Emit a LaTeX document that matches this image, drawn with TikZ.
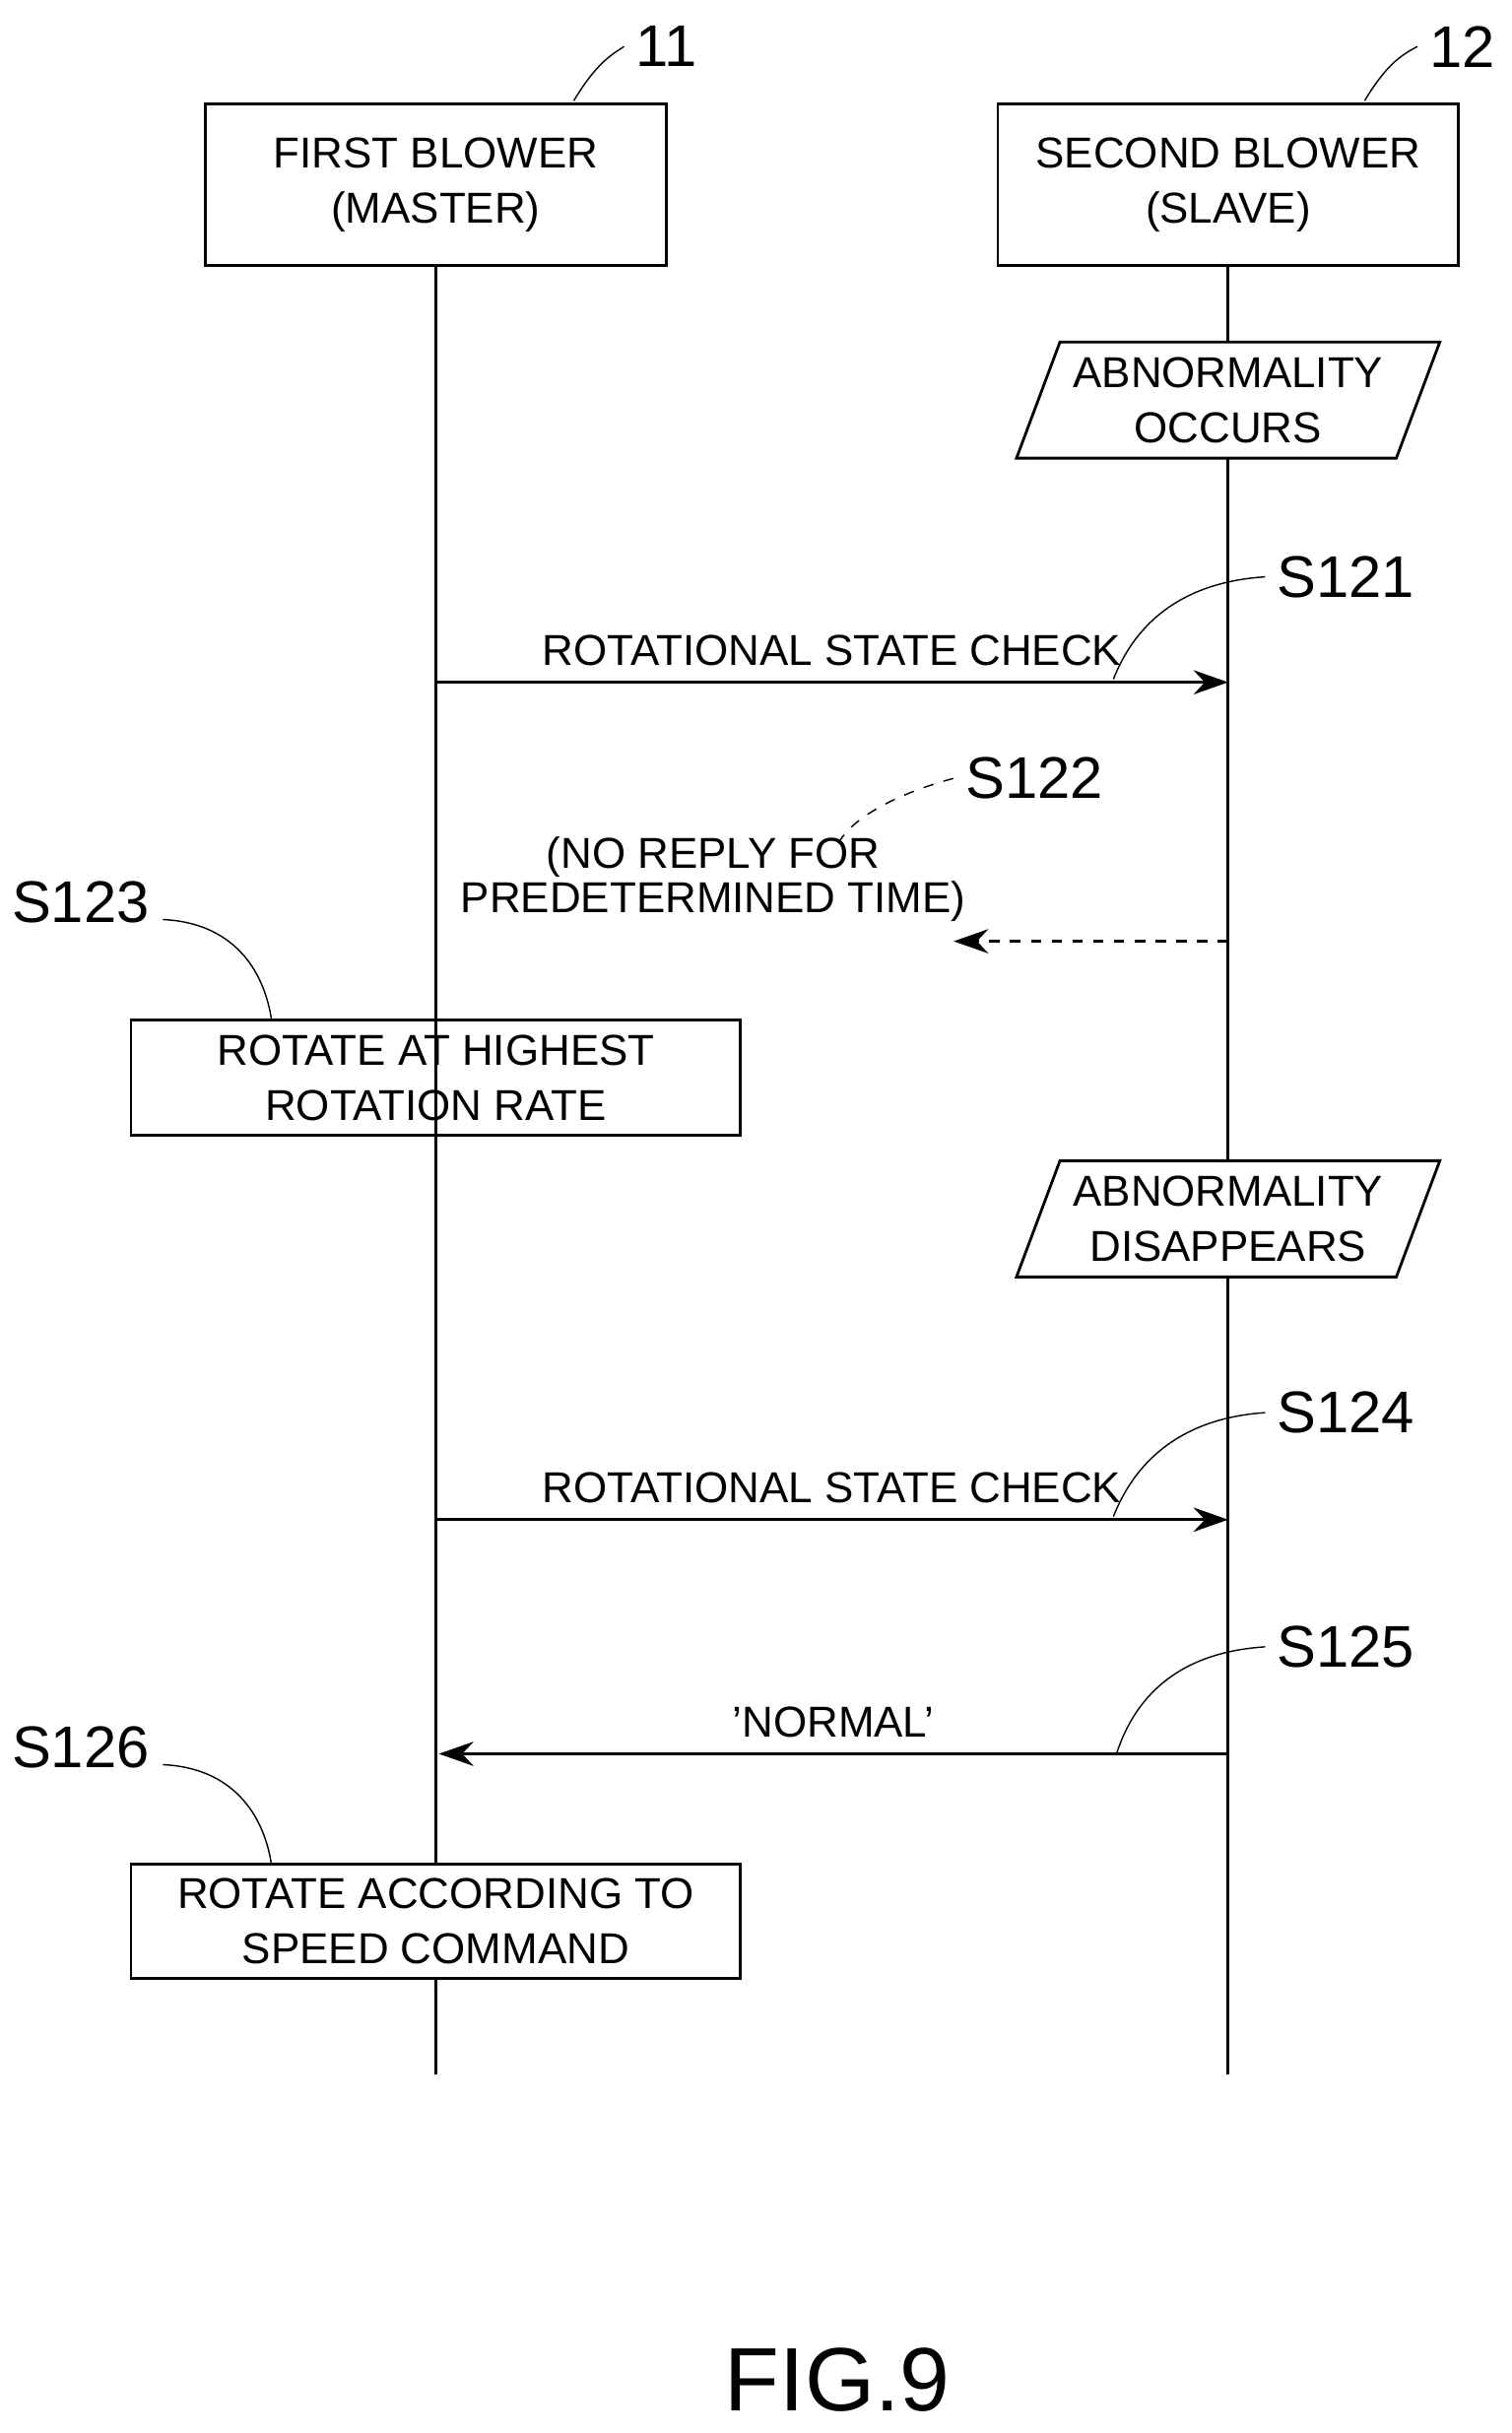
\documentclass[tikz,border=0pt]{standalone}
\usepackage{fontspec}
\setmainfont{Liberation Sans}
\usetikzlibrary{positioning,shapes.geometric,arrows.meta}

\begin{document}
\begin{tikzpicture}[x=0.01574cm,y=-0.01574cm,
    box/.style={draw, thick, rectangle, align=center, font=\fontsize{12.5}{16}\selectfont, inner sep=0pt},
    state/.style={draw, thick, trapezium, trapezium left angle=65, trapezium right angle=115, align=center, font=\fontsize{12.5}{16}\selectfont, minimum width=4.3cm, minimum height=1.18cm, inner sep=0pt, trapezium stretches=true},
    msg/.style={-{Stealth[length=10pt,width=7pt]}, thick},
    lbl/.style={font=\fontsize{12.5}{14}\selectfont},
    steplbl/.style={font=\fontsize{17}{20}\selectfont},
    lead/.style={thin}]
    \useasboundingbox (0,0) rectangle (975,1569);

    % participants
    \node (master) [box, minimum width=297*0.01574cm, minimum height=104*0.01574cm] at (281,119) {FIRST BLOWER\\(MASTER)};
    \node (slave) [box, minimum width=297*0.01574cm, minimum height=104*0.01574cm] at (792,119) {SECOND BLOWER\\(SLAVE)};
    \coordinate (mend) at (281,1338);
    \coordinate (send) at (792,1338);
    \draw[thick] (master.south) -- (mend);
    \draw[thick] (slave.south) -- (send);

    \node (n11) [steplbl] at (430,30) {11};
    \node (n12) [steplbl] at (943,30) {12};
    \draw[lead] (370,65) .. controls (385,40) and (395,35) .. (n11.west);
    \draw[lead] (880,65) .. controls (895,40) and (905,35) .. (n12.west);

    % abnormality
    \node (occ) [state, fill=white] at (792,258) {ABNORMALITY\\OCCURS};

    % first check
    \coordinate (m1) at (281,440);
    \coordinate (s1) at (792,440);
    \draw[msg] (m1) -- node[lbl, above=1pt] {ROTATIONAL STATE CHECK} (s1);
    \node (s121) [steplbl] at (868,372) {S121};
    \draw[lead] (718,438) .. controls (735,395) and (770,375) .. (s121.west);

    % no reply
    \coordinate (s2) at (792,607);
    \coordinate (m2) at (615,607);
    \draw[msg, dashed] (s2) -- (m2);
    \node (noreply) [lbl, align=center, font=\fontsize{12.5}{13}\selectfont] at (460,567) {(NO REPLY FOR\\PREDETERMINED TIME)};
    \node (s122) [steplbl] at (667,502) {S122};
    \draw[lead, dashed] (s122.west) .. controls (585,510) and (550,525) .. (540,545);

    \node (high) [box, minimum width=393*0.01574cm, minimum height=74*0.01574cm] at (281,695) {ROTATE AT HIGHEST\\ROTATION RATE};
    \node (s123) [steplbl] at (52,582) {S123};
    \draw[lead] (105,593) .. controls (150,595) and (170,625) .. (175,657);

    % abnormality disappears
    \node (dis) [state, fill=white] at (792,786) {ABNORMALITY\\DISAPPEARS};

    % second check
    \coordinate (m3) at (281,980);
    \coordinate (s3) at (792,980);
    \draw[msg] (m3) -- node[lbl, above=1pt] {ROTATIONAL STATE CHECK} (s3);
    \node (s124) [steplbl] at (868,911) {S124};
    \draw[lead] (718,978) .. controls (735,935) and (770,914) .. (s124.west);

    % normal reply
    \coordinate (s4) at (792,1131);
    \coordinate (m4) at (283,1131);
    \draw[msg] (s4) -- node[lbl, above=1pt] {'NORMAL'} (m4);
    \node (s125) [steplbl] at (868,1062) {S125};
    \draw[lead] (720,1131) .. controls (735,1085) and (770,1065) .. (s125.west);

    \node (speed) [box, fill=white, minimum width=393*0.01574cm, minimum height=74*0.01574cm] at (281,1239) {ROTATE ACCORDING TO\\SPEED COMMAND};
    \node (s126) [steplbl] at (52,1127) {S126};
    \draw[lead] (105,1138) .. controls (150,1140) and (170,1170) .. (175,1202);

    \node (fig) [font=\fontsize{26}{30}\selectfont] at (540,1535) {FIG.9};
\end{tikzpicture}
\end{document}
